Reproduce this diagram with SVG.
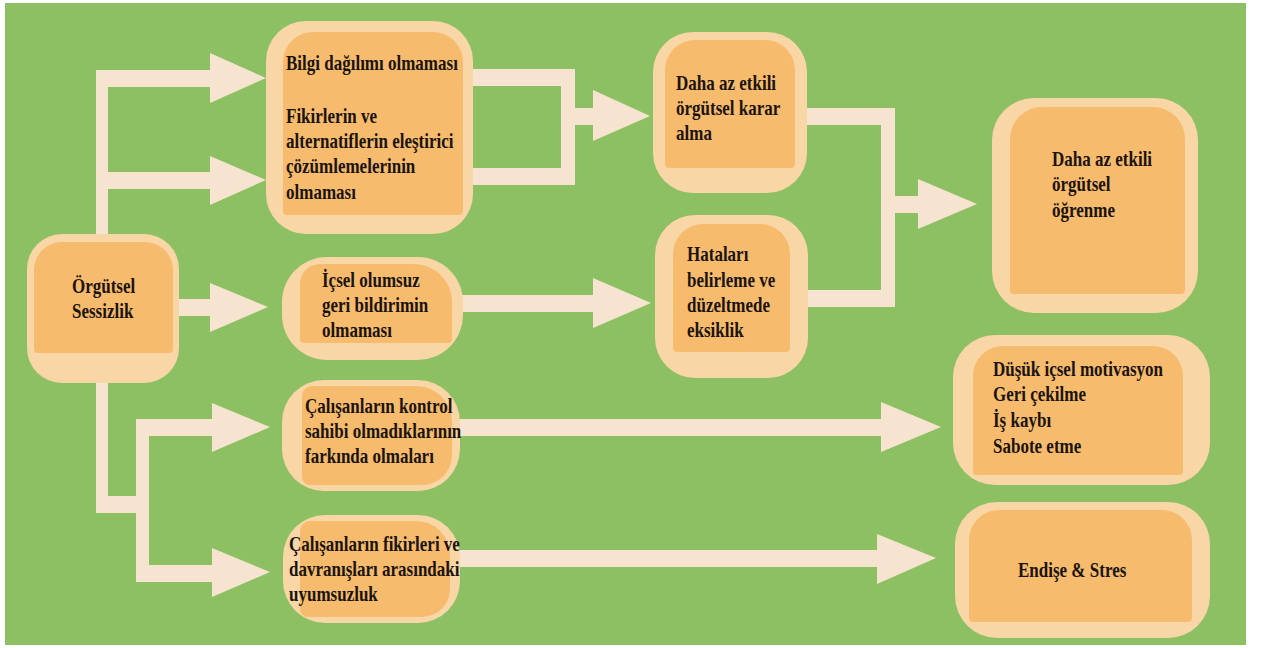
<svg xmlns="http://www.w3.org/2000/svg" width="1261" height="648" viewBox="0 0 1261 648">
  <style>
    .bg { fill: #8dc062; }
    .c { fill: #f6e4d0; }
    .o { fill: #f8d6a6; }
    .i { fill: #f7bb6e; }
    .t { font-family: "Liberation Serif", "Times New Roman", serif; font-weight: bold; font-size: 21px; fill: #1b140d; }
  </style>

  <rect x="0" y="0" width="1261" height="648" fill="#ffffff"/>
  <rect class="bg" x="5" y="3" width="1241" height="642"/>

  <!-- connectors: thick light bands with broad triangular heads -->
  <g id="connectors">
    <!-- upper trunk from the source node -->
    <rect class="c" x="96" y="70" width="12" height="175"/>
    <rect class="c" x="96" y="70" width="120" height="17"/>
    <polygon class="c" points="210,53 266,78 210,103"/>
    <rect class="c" x="100" y="172" width="116" height="17"/>
    <polygon class="c" points="210,156 266,180 210,205"/>
    <!-- straight branch to the middle node -->
    <rect class="c" x="170" y="299" width="46" height="17"/>
    <polygon class="c" points="210,283 268,307 210,332"/>
    <!-- lower trunk with a step to the right -->
    <rect class="c" x="96" y="375" width="12" height="138"/>
    <rect class="c" x="96" y="496" width="53" height="17"/>
    <rect class="c" x="136" y="419" width="13" height="163"/>
    <rect class="c" x="136" y="419" width="80" height="17"/>
    <polygon class="c" points="212,403 270,427 212,452"/>
    <rect class="c" x="136" y="565" width="80" height="17"/>
    <polygon class="c" points="212,548 270,572 212,597"/>
    <!-- two outputs merging into decision making -->
    <rect class="c" x="465" y="69" width="110" height="17"/>
    <rect class="c" x="465" y="168" width="110" height="17"/>
    <rect class="c" x="561" y="69" width="14" height="116"/>
    <rect class="c" x="561" y="108" width="40" height="17"/>
    <polygon class="c" points="593,90 650,116 593,141"/>
    <!-- feedback to error correction -->
    <rect class="c" x="455" y="295" width="145" height="17"/>
    <polygon class="c" points="593,278 651,303 593,328"/>
    <!-- merge into organisational learning -->
    <rect class="c" x="800" y="108" width="95" height="17"/>
    <rect class="c" x="800" y="290" width="95" height="17"/>
    <rect class="c" x="881" y="108" width="14" height="199"/>
    <rect class="c" x="881" y="196" width="45" height="17"/>
    <polygon class="c" points="918,179 977,204 918,229"/>
    <!-- long arrows to the right-hand outcomes -->
    <rect class="c" x="452" y="419" width="435" height="17"/>
    <polygon class="c" points="881,402 941,427 881,452"/>
    <rect class="c" x="452" y="550" width="432" height="17"/>
    <polygon class="c" points="877,534 936,558 877,584"/>
  </g>

  <g id="node-sessizlik">
    <rect class="o" x="27" y="234" width="152" height="149" rx="35"/>
    <path class="i" d="M34 270 A28 28 0 0 1 62 242 H145 A28 28 0 0 1 173 270 V349 A4 4 0 0 1 169 353 H38 A4 4 0 0 1 34 349 Z"/>
    <text class="t" transform="translate(72,293) scale(0.81,1)"><tspan x="0" y="0">Örgütsel</tspan><tspan x="0" y="25">Sessizlik</tspan></text>
  </g>

  <g id="node-bilgi">
    <rect class="o" x="266" y="21" width="207" height="213" rx="40"/>
    <path class="i" d="M283 62 A30 30 0 0 1 313 32 H433 A30 30 0 0 1 463 62 V211 A4 4 0 0 1 459 215 H287 A4 4 0 0 1 283 211 Z"/>
    <text class="t" transform="translate(286,70) scale(0.81,1)"><tspan x="0" y="0">Bilgi dağılımı olmaması</tspan><tspan x="0" y="53">Fikirlerin ve</tspan><tspan x="0" y="78">alternatiflerin eleştirici</tspan><tspan x="0" y="103">çözümlemelerinin</tspan><tspan x="0" y="129">olmaması</tspan></text>
  </g>

  <g id="node-icsel">
    <rect class="o" x="282" y="257" width="181" height="103" rx="45"/>
    <path class="i" d="M300 284 A20 20 0 0 1 320 264 H414 A38 38 0 0 1 452 302 V339 A4 4 0 0 1 448 343 H304 A4 4 0 0 1 300 339 Z"/>
    <text class="t" transform="translate(322,287) scale(0.81,1)"><tspan x="0" y="0">İçsel olumsuz</tspan><tspan x="0" y="25">geri bildirimin</tspan><tspan x="0" y="50">olmaması</tspan></text>
  </g>

  <g id="node-karar">
    <rect class="o" x="653" y="32" width="154" height="161" rx="40"/>
    <path class="i" d="M665 70 A30 30 0 0 1 695 40 H765 A30 30 0 0 1 795 70 V164 A4 4 0 0 1 791 168 H669 A4 4 0 0 1 665 164 Z"/>
    <text class="t" transform="translate(676,90) scale(0.81,1)"><tspan x="0" y="0">Daha az etkili</tspan><tspan x="0" y="25">örgütsel karar</tspan><tspan x="0" y="50">alma</tspan></text>
  </g>

  <g id="node-hatalar">
    <rect class="o" x="655" y="215" width="153" height="163" rx="40"/>
    <path class="i" d="M673 254 A30 30 0 0 1 703 224 H760 A30 30 0 0 1 790 254 V348 A4 4 0 0 1 786 352 H677 A4 4 0 0 1 673 348 Z"/>
    <text class="t" transform="translate(687,261) scale(0.81,1)"><tspan x="0" y="0">Hataları</tspan><tspan x="0" y="26">belirleme ve</tspan><tspan x="0" y="51">düzeltmede</tspan><tspan x="0" y="76">eksiklik</tspan></text>
  </g>

  <g id="node-ogrenme">
    <rect class="o" x="992" y="98" width="206" height="215" rx="42"/>
    <path class="i" d="M1010 139 A32 32 0 0 1 1042 107 H1153 A32 32 0 0 1 1185 139 V290 A4 4 0 0 1 1181 294 H1014 A4 4 0 0 1 1010 290 Z"/>
    <text class="t" transform="translate(1052,166) scale(0.81,1)"><tspan x="0" y="0">Daha az etkili</tspan><tspan x="0" y="25">örgütsel</tspan><tspan x="0" y="51">öğrenme</tspan></text>
  </g>

  <g id="node-kontrol">
    <rect class="o" x="282" y="380" width="178" height="111" rx="42"/>
    <path class="i" d="M302 396 A10 10 0 0 1 312 386 H416 A36 36 0 0 1 452 422 V455 A30 30 0 0 1 422 485 H310 A8 8 0 0 1 302 477 Z"/>
    <text class="t" transform="translate(305,413) scale(0.81,1)"><tspan x="0" y="0">Çalışanların kontrol</tspan><tspan x="0" y="25">sahibi olmadıklarının</tspan><tspan x="0" y="50">farkında olmaları</tspan></text>
  </g>

  <g id="node-uyumsuzluk">
    <rect class="o" x="283" y="515" width="177" height="108" rx="42"/>
    <path class="i" d="M300 531 A10 10 0 0 1 310 521 H416 A34 34 0 0 1 450 555 V589 A28 28 0 0 1 422 617 H308 A8 8 0 0 1 300 609 Z"/>
    <text class="t" transform="translate(289,551) scale(0.81,1)"><tspan x="0" y="0">Çalışanların fikirleri ve</tspan><tspan x="0" y="25">davranışları arasındaki</tspan><tspan x="0" y="50">uyumsuzluk</tspan></text>
  </g>

  <g id="node-motivasyon">
    <rect class="o" x="953" y="335" width="257" height="150" rx="42"/>
    <path class="i" d="M973 376 A30 30 0 0 1 1003 346 H1153 A30 30 0 0 1 1183 376 V471 A4 4 0 0 1 1179 475 H977 A4 4 0 0 1 973 471 Z"/>
    <text class="t" transform="translate(993,376) scale(0.81,1)"><tspan x="0" y="0">Düşük içsel motivasyon</tspan><tspan x="0" y="25">Geri çekilme</tspan><tspan x="0" y="51">İş kaybı</tspan><tspan x="0" y="77">Sabote etme</tspan></text>
  </g>

  <g id="node-stres">
    <rect class="o" x="955" y="502" width="255" height="136" rx="42"/>
    <path class="i" d="M969 540 A30 30 0 0 1 999 510 H1162 A30 30 0 0 1 1192 540 V618 A4 4 0 0 1 1188 622 H973 A4 4 0 0 1 969 618 Z"/>
    <text class="t" transform="translate(1018,577) scale(0.81,1)">Endişe &amp; Stres</text>
  </g>
</svg>
